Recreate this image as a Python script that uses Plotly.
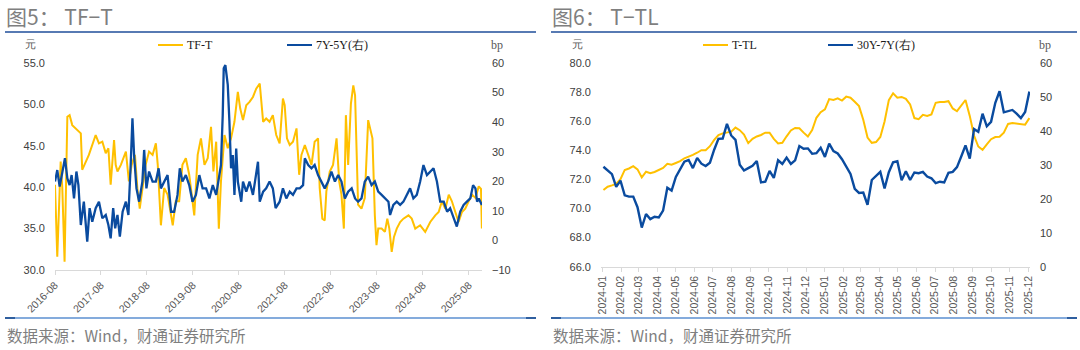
import plotly.graph_objects as go
import pandas as pd

# ---------------- Left panel data: TF-T (元, left axis) and 7Y-5Y (bp, right axis)
tf_t_dates = ["2016-08-01","2016-08-19","2016-09-15","2016-09-28","2016-10-16","2016-11-07","2016-11-25","2016-12-16",
 "2017-02-22","2017-03-05","2017-04-27","2017-06-20","2017-07-16","2017-08-12","2017-09-08","2017-09-29","2017-10-17",
 "2017-11-13","2017-11-26","2017-12-10","2018-01-06","2018-02-15","2018-03-11","2018-04-02","2018-04-28","2018-05-17",
 "2018-06-05","2018-06-26","2018-07-22","2018-08-18","2018-09-15","2018-10-11","2018-10-26","2018-11-20","2018-12-16",
 "2019-01-12","2019-02-22","2019-03-18","2019-04-14","2019-05-10","2019-06-06","2019-07-03","2019-07-24","2019-08-12",
 "2019-09-08","2019-10-04","2019-11-01","2019-11-27","2019-12-23","2020-01-11","2020-02-02","2020-02-23","2020-03-11",
 "2020-04-08","2020-05-04","2020-05-30","2020-06-26","2020-07-23","2020-08-11","2020-09-02","2020-09-28","2020-10-24",
 "2020-11-20","2020-12-16","2021-01-13","2021-02-09","2021-03-05","2021-04-01","2021-04-27","2021-05-24","2021-06-20",
 "2021-07-16","2021-07-30","2021-08-17","2021-09-08","2021-10-04","2021-11-01","2021-11-22","2021-12-10","2022-01-06",
 "2022-02-02","2022-02-28","2022-03-25","2022-04-21","2022-05-04","2022-05-25","2022-06-13","2022-06-26","2022-07-23",
 "2022-08-18","2022-09-15","2022-10-06","2022-10-24","2022-11-12","2022-11-28","2022-12-16","2023-01-07","2023-01-26",
 "2023-02-09","2023-02-22","2023-03-05","2023-04-01","2023-04-27","2023-05-24","2023-06-06","2023-06-27","2023-07-16",
 "2023-07-29","2023-08-12","2023-09-08","2023-10-04","2023-10-23","2023-11-08","2023-11-27","2023-12-15","2024-01-06",
 "2024-02-02","2024-02-28","2024-04-08","2024-05-04","2024-06-01","2024-07-10","2024-08-19","2024-09-28","2024-11-07",
 "2024-12-04","2024-12-30","2025-01-26","2025-02-22","2025-03-19","2025-04-15","2025-05-11","2025-06-07","2025-07-03",
 "2025-07-30","2025-08-26","2025-09-22","2025-10-18","2025-11-05","2025-11-12"]
tf_t_vals = [40.3,31.6,43.1,39.9,31.0,48.5,48.7,47.5,
 46.5,42.1,43.9,46.3,45.3,45.5,44.1,44.7,40.3,
 45.7,42.7,41.9,42.7,44.3,40.7,42.7,43.9,39.9,
 37.4,39.9,42.7,44.3,43.9,45.3,42.7,35.4,39.9,
 39.1,35.4,38.3,38.3,42.7,43.5,41.5,39.1,36.6,
 43.9,45.9,42.7,43.5,47.3,41.9,45.5,35.0,40.7,
 46.3,44.7,45.9,47.9,51.5,49.5,48.1,49.9,50.3,
 50.9,51.9,52.5,47.9,48.3,47.9,48.7,46.3,45.3,
 50.7,49.9,45.9,45.1,45.5,47.1,41.5,43.9,45.1,
 43.9,42.7,45.5,45.9,39.9,36.2,36.0,39.5,41.9,
 42.7,45.9,40.7,39.1,35.0,48.7,42.7,50.1,52.3,
 51.1,42.7,37.9,37.4,38.7,48.1,47.1,45.9,36.6,
 33.0,35.0,35.0,34.6,36.2,35.0,32.2,34.0,35.0,
 35.8,36.2,36.6,36.2,35.0,35.4,34.6,35.8,36.6,
 37.0,38.3,37.4,39.1,38.3,37.0,35.8,37.0,37.4,
 38.3,39.1,38.7,40.1,39.8,35.0]

y7_5_dates = ["2016-08-01","2016-08-19","2016-09-07","2016-09-28","2016-10-19","2016-11-07","2016-11-25","2016-12-11",
 "2016-12-30","2017-01-18","2017-02-03","2017-02-22","2017-03-18","2017-04-14","2017-05-03","2017-05-24","2017-06-20",
 "2017-07-16","2017-08-12","2017-09-08","2017-09-29","2017-10-17","2017-11-06","2017-11-22","2017-12-10","2017-12-29",
 "2018-01-20","2018-02-15","2018-03-07","2018-03-25","2018-04-08","2018-04-21","2018-05-10","2018-05-31","2018-06-26",
 "2018-07-10","2018-07-28","2018-08-18","2018-09-15","2018-10-11","2018-11-02","2018-11-20","2018-12-16","2019-01-12",
 "2019-02-09","2019-03-05","2019-04-01","2019-04-19","2019-05-10","2019-06-06","2019-07-03","2019-07-29","2019-08-25",
 "2019-09-21","2019-10-17","2019-11-14","2019-12-10","2020-01-06","2020-02-02","2020-02-28","2020-03-11","2020-03-25",
 "2020-04-02","2020-04-15","2020-05-04","2020-05-17","2020-05-30","2020-06-13","2020-06-26","2020-07-10","2020-07-23",
 "2020-08-19","2020-09-02","2020-09-28","2020-10-24","2020-11-20","2020-12-16","2020-12-30","2021-01-13","2021-02-09",
 "2021-03-05","2021-04-01","2021-04-27","2021-05-19","2021-06-20","2021-07-16","2021-08-12","2021-09-08","2021-10-04",
 "2021-11-01","2021-11-27","2021-12-23","2022-01-06","2022-02-02","2022-02-28","2022-03-25","2022-04-21","2022-05-17",
 "2022-06-13","2022-07-10","2022-08-05","2022-09-02","2022-09-28","2022-10-24","2022-11-20","2022-12-16","2023-01-13",
 "2023-02-09","2023-03-05","2023-04-01","2023-04-27","2023-05-24","2023-06-20","2023-07-16","2023-08-12","2023-09-08",
 "2023-10-04","2023-11-01","2023-11-14","2023-12-10","2024-01-06","2024-02-02","2024-02-28","2024-03-25","2024-04-21",
 "2024-05-17","2024-06-13","2024-07-10","2024-08-05","2024-09-02","2024-09-28","2024-10-24","2024-11-20","2024-12-16",
 "2025-01-13","2025-02-09","2025-03-05","2025-04-01","2025-04-27","2025-05-24","2025-06-20","2025-07-16","2025-08-12",
 "2025-09-03","2025-09-22","2025-10-05","2025-10-18","2025-11-12"]
y7_5_vals = [19.9,23.8,18.2,23.3,27.8,21.0,18.7,22.1,
 14.2,23.3,18.7,5.2,13.1,-0.4,10.9,6.3,10.9,
 13.1,7.5,8.6,5.2,0.7,10.9,4.1,8.6,1.3,
 9.7,13.1,8.6,25.5,41.3,28.9,17.6,13.1,19.9,
 30.6,17.6,23.3,19.9,19.9,24.4,17.6,19.9,22.1,
 9.7,9.7,15.4,24.4,19.9,22.1,18.7,13.1,15.4,
 22.1,17.6,17.6,14.2,18.7,15.4,22.1,25.5,42.4,
 58.2,59.3,52.6,40.2,24.4,28.9,15.4,31.1,19.9,
 13.1,19.9,16.5,19.9,15.4,22.1,26.6,13.1,16.5,
 17.6,19.9,17.6,10.9,13.1,17.6,14.2,16.5,15.4,
 17.6,17.6,18.7,27.8,25.5,24.4,25.5,22.1,19.9,
 17.6,19.9,23.3,19.9,22.1,19.9,14.2,16.5,17.6,
 14.2,13.1,14.2,19.9,21.6,18.7,19.9,16.5,15.4,
 14.2,13.1,8.6,12.0,13.1,12.0,13.1,15.4,17.6,
 14.2,15.4,19.9,25.5,22.1,23.3,24.4,19.9,13.1,
 13.1,9.7,10.9,7.5,4.7,9.7,12.0,13.1,14.2,
 18.7,17.6,13.1,14.2,12.0]

# ---------------- Right panel data: weekly, T-TL (元) and 30Y-7Y (bp)
t_tl_dates = list(pd.date_range("2024-01-03", periods=101, freq="7D").strftime("%Y-%m-%d"))
t_tl_vals = [71.26,71.49,71.58,71.68,72.0,72.64,72.74,72.9,72.68,72.13,
 72.52,72.41,72.5,72.66,72.78,73.06,73.0,73.12,73.24,73.44,
 73.53,73.67,73.82,74.0,74.0,74.27,74.7,75.03,75.15,75.2,
 75.27,75.55,75.37,75.07,74.48,74.77,74.94,75.04,75.2,75.2,
 74.77,74.46,74.5,74.95,75.35,75.52,75.5,75.2,74.93,75.37,
 76.22,76.6,76.8,77.5,77.44,77.55,77.4,77.67,77.6,77.32,
 77.02,76.08,74.86,74.5,74.55,74.9,75.96,77.43,77.9,77.6,
 77.65,77.52,77.13,76.2,76.12,76.42,76.35,76.45,77.25,77.3,
 77.3,77.36,76.86,76.67,77.1,77.44,76.35,75.0,74.25,74.02,
 74.4,74.75,74.9,74.92,75.2,75.8,75.86,75.83,75.78,75.75,
 76.2]
y30_7_vals = [29.4,28.4,27.2,23.5,25.3,21.0,20.6,20.6,17.5,11.5,
 15.5,14.0,14.7,14.5,16.5,23.2,22.4,26.4,28.6,30.9,
 31.4,29.0,32.0,30.3,29.6,30.6,34.4,37.6,37.7,42.0,
 38.6,37.3,30.0,28.3,29.0,29.7,31.1,24.8,25.0,28.2,
 26.1,31.3,30.2,32.1,30.2,31.3,35.5,34.7,34.8,33.2,
 33.4,35.0,32.3,36.2,34.0,33.3,31.6,29.4,27.3,22.9,
 21.7,21.8,18.2,25.5,26.6,27.9,23.0,27.8,30.7,31.0,
 25.4,28.1,25.5,27.7,27.5,27.9,26.5,26.0,24.6,25.0,
 24.8,27.6,27.9,29.3,32.4,35.7,31.8,40.5,39.7,45.0,
 41.3,42.6,48.2,51.6,45.4,45.7,46.1,45.0,43.7,45.5,
 51.5]

left_xticks = ["2016-08-01","2017-08-01","2018-08-01","2019-08-01","2020-08-01",
               "2021-08-01","2022-08-01","2023-08-01","2024-08-01","2025-08-01"]

YEL = "#FFC000"
BLU = "#0A4B9F"
W, H = 1080, 350

def px(x):
    return x / W

def py(y):
    return (H - y) / H

fig = go.Figure()
fig.add_trace(go.Scatter(x=tf_t_dates, y=tf_t_vals, name="TF-T", mode="lines",
                         line=dict(color=YEL, width=2), xaxis="x", yaxis="y", showlegend=False))
fig.add_trace(go.Scatter(x=y7_5_dates, y=y7_5_vals, name="7Y-5Y(右)", mode="lines",
                         line=dict(color=BLU, width=2.3), xaxis="x", yaxis="y2", showlegend=False))
fig.add_trace(go.Scatter(x=t_tl_dates, y=t_tl_vals, name="T-TL", mode="lines",
                         line=dict(color=YEL, width=2), xaxis="x2", yaxis="y3", showlegend=False))
fig.add_trace(go.Scatter(x=t_tl_dates, y=y30_7_vals, name="30Y-7Y(右)", mode="lines",
                         line=dict(color=BLU, width=2.4), xaxis="x2", yaxis="y4", showlegend=False))

tickfont = dict(family="Liberation Sans, Arial, sans-serif", size=11, color="#404040")
xtickfont = dict(family="Liberation Sans, Arial, sans-serif", size=10.5, color="#595959")

common_x = dict(type="date", showgrid=False, zeroline=False, showline=True, linecolor="#D9D9D9",
                linewidth=1, ticks="outside", ticklen=4, tickcolor="#D9D9D9", tickfont=xtickfont,
                automargin=False)
common_y = dict(showgrid=False, zeroline=False, showline=False, ticks="", tickfont=tickfont,
                ticklabelstandoff=9, automargin=False)

fig.update_layout(
    width=W, height=H, margin=dict(l=0, r=0, t=0, b=0, pad=0, autoexpand=False),
    paper_bgcolor="white", plot_bgcolor="white",
    xaxis=dict(common_x, domain=[px(55), px(482)], anchor="y",
               range=["2016-08-01", "2025-11-13"], tickvals=left_xticks,
               tickformat="%Y-%m", tickangle=-45),
    yaxis=dict(common_y, domain=[py(270), py(63)], anchor="x", range=[30, 55], dtick=5,
               tickformat=".1f"),
    yaxis2=dict(common_y, overlaying="y", side="right", anchor="x", range=[-10, 60], dtick=10),
    xaxis2=dict(common_x, domain=[px(601), px(1030)], anchor="y3",
                range=["2023-12-30", "2025-12-04"], dtick="M1", tick0="2024-01-01",
                tickformat="%Y-%m", tickangle=-90),
    yaxis3=dict(common_y, domain=[py(266.7), py(62.7)], anchor="x2", range=[66, 80], dtick=2,
                tickformat=".1f"),
    yaxis4=dict(common_y, overlaying="y3", side="right", anchor="x2", range=[0, 60], dtick=10),
)

shapes = []
annotations = []

def hline(x0, x1, y, color, width):
    shapes.append(dict(type="line", xref="paper", yref="paper", x0=px(x0), x1=px(x1),
                       y0=py(y), y1=py(y), line=dict(color=color, width=width)))

def text(x, y, s, size, color, family, xanchor="left"):
    annotations.append(dict(x=px(x), y=py(y), xref="paper", yref="paper", text=s, showarrow=False,
                            xanchor=xanchor, yanchor="middle",
                            font=dict(size=size, color=color, family=family)))

cjk = "Noto Sans CJK SC, sans-serif"
serif = "Liberation Serif, Times New Roman, serif"

panels = [
    dict(x0=5, x1=536, title="图5： TF−T", unitl=30, unitr=497,
         leg=[(158, "TF-T", YEL), (287, "7Y-5Y(右)", BLU)]),
    dict(x0=551, x1=1077, title="图6： T−TL", unitl=577, unitr=1045,
         leg=[(703, "T-TL", YEL), (828, "30Y-7Y(右)", BLU)]),
]
for p in panels:
    text(p["x0"] - 1, 16, p["title"], 21, "#7F7F7F", cjk)
    hline(p["x0"], p["x1"], 32, "#1F4E9A", 1.6)
    hline(p["x0"], p["x1"], 318, "#5B8FD0", 1.6)
    hline(p["x0"], p["x0"] + 10, 318, "#2F5F9F", 2)
    hline(p["x1"] - 10, p["x1"], 318, "#2F5F9F", 2)
    text(p["x0"], 335, "数据来源：Wind，财通证券研究所", 15.5, "#7F7F7F", cjk)
    text(p["unitl"], 44, "元", 11, "#595959", serif, xanchor="center")
    text(p["unitr"], 45, "bp", 12, "#595959", serif, xanchor="center")
    for lx, lab, col in p["leg"]:
        hline(lx, lx + 25, 45, col, 2)
        text(lx + 27, 45, lab, 12, "#1A1A1A", serif)

fig.update_layout(shapes=shapes, annotations=annotations)
fig.write_html("out.html")
